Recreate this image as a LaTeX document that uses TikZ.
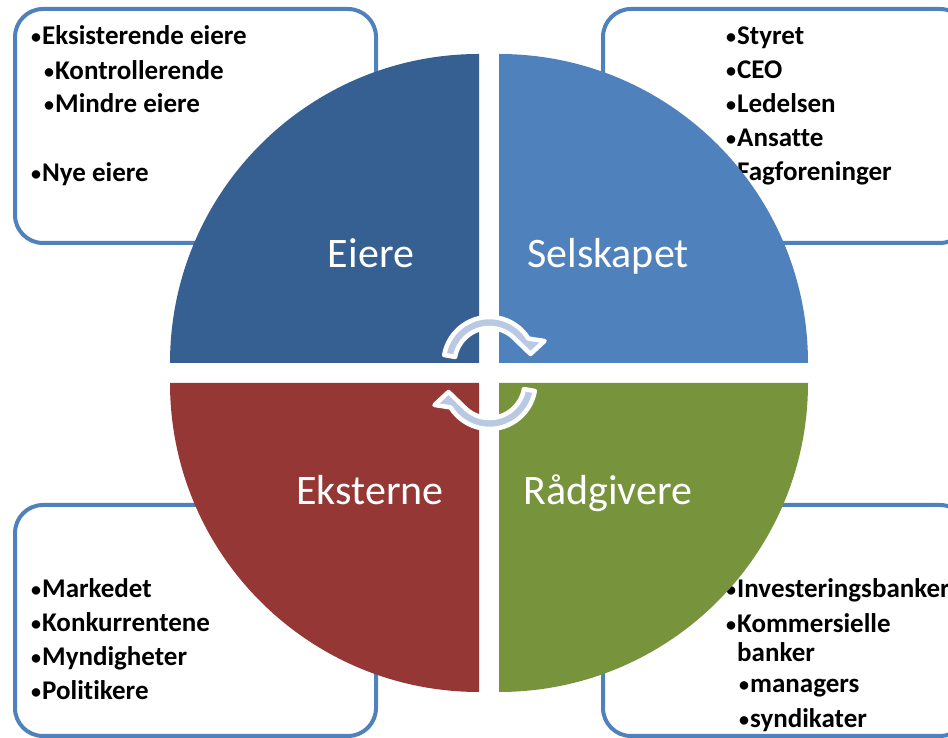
\documentclass[tikz,border=0pt]{standalone}
\usepackage{fontspec}
\setmainfont{Carlito}[Ligatures = NoCommon]
\definecolor{boxline}{RGB}{79,129,189}
\definecolor{eierefill}{RGB}{55,96,146}
\definecolor{firmfill}{RGB}{79,129,189}
\definecolor{extfill}{RGB}{149,55,53}
\definecolor{advfill}{RGB}{119,147,60}
\definecolor{turnfill}{RGB}{185,201,227}
\newcommand{\dotmark}{{\fontsize{20}{20}\selectfont\raisebox{1.5pt}{•}}\kern1pt}
\begin{document}
\begin{tikzpicture}[
        x = 1pt, y = 1pt,
        box/.style = {draw = boxline, line width = 4pt, rounded corners = 28pt, fill = white},
        item/.style = {anchor = base west, inner sep = 0pt, font = \fontsize{27}{30}\selectfont\bfseries},
        part/.style = {anchor = base, inner sep = 0pt, text = white, font = \fontsize{42}{50}\selectfont},
        turn/.style = {fill = turnfill, draw = white, line width = 4.5pt, line join = round}
    ]
    \useasboundingbox (0,0) rectangle (948,738);
    \clip (0,0) rectangle (948,738);

    % boxes behind the circle
    \draw[box] (15,729) rectangle (376,495);
    \draw[box] (603,729) rectangle (968,495);
    \draw[box] (15,233) rectangle (376,2);
    \draw[box] (603,233) rectangle (968,2);

    % owners
    \node[item] (own1) at (31,693) {\dotmark Eksisterende eiere};
    \node[item] (own2) at (44,658) {\dotmark Kontrollerende};
    \node[item] (own3) at (44,625) {\dotmark Mindre eiere};
    \node[item] (own4) at (31,556) {\dotmark Nye eiere};

    % company
    \foreach \txt [count = \i] in {Styret, CEO, Ledelsen, Ansatte, Fagforeninger}
        \node[item] (firm\i) at (726,727-34*\i) {\dotmark\txt};

    % external
    \foreach \txt [count = \i] in {Markedet, Konkurrentene, Myndigheter, Politikere}
        \node[item] (ext\i) at (31,174-34*\i) {\dotmark\txt};

    % advisers
    \node[item] (adv1) at (726,140) {\dotmark Investeringsbanker};
    \node[item] (adv2) at (726,105) {\dotmark Kommersielle};
    \node[item] (adv3) at (737,76) {banker};
    \node[item] (adv4) at (739,45) {\dotmark managers};
    \node[item] (adv5) at (739,10) {\dotmark syndikater};

    % the four quarters
    \fill[eierefill] (479,375) -- (170,375) arc[start angle = 180, end angle = 90, radius = 309pt] -- cycle;
    \fill[firmfill] (499,375) -- (499,684) arc[start angle = 90, end angle = 0, radius = 309pt] -- cycle;
    \fill[extfill] (479,355) -- (170,355) arc[start angle = 180, end angle = 270, radius = 309pt] -- cycle;
    \fill[advfill] (499,355) -- (808,355) arc[start angle = 0, end angle = -90, radius = 309pt] -- cycle;

    \node[part] (eiere) at (371,470) {Eiere};
    \node[part] (selskapet) at (608,470) {Selskapet};
    \node[part] (eksterne) at (370,233) {Eksterne};
    \node[part] (radgivere) at (608,233) {Rådgivere};

    % circular arrows in the middle
    \begin{scope}[shift = {(489.5,375)}]
        \draw[turn] (170:46) arc[start angle = 170, end angle = 32, radius = 46pt]
            -- (55,22) -- (41,9) -- (43:35)
            arc[start angle = 43, end angle = 170, radius = 35pt] -- cycle;
    \end{scope}
    \begin{scope}[shift = {(489.5,355)}, rotate = 180]
        \draw[turn] (170:46) arc[start angle = 170, end angle = 32, radius = 46pt]
            -- (55,22) -- (41,9) -- (43:35)
            arc[start angle = 43, end angle = 170, radius = 35pt] -- cycle;
    \end{scope}
\end{tikzpicture}
\end{document}
